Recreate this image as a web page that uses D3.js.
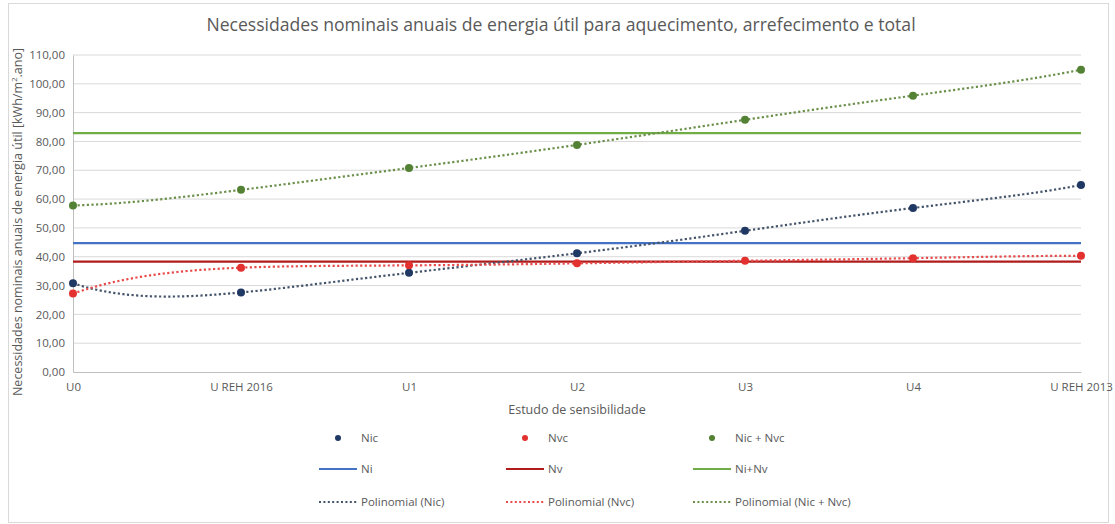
<!DOCTYPE html>
<html><head><meta charset="utf-8">
<script src="https://cdn.jsdelivr.net/npm/d3@7"></script>
<style>body{margin:0;background:#fff;} text{font-family:"Open Sans","Noto Sans",sans-serif;}</style>
</head><body>
<svg id="c" width="1115" height="524"></svg>
<script>
const categories = ["U0","U REH 2016","U1","U2","U3","U4","U REH 2013"];
const nic = [30.8, 27.6, 34.4, 41.2, 49.0, 56.9, 64.9];
const nvc = [27.2, 36.2, 37.0, 37.7, 38.6, 39.5, 40.3];
const nicNvc = [57.8, 63.2, 70.8, 78.8, 87.5, 95.9, 104.9];
const ni = 44.7;
const nv = 38.3;
const niNv = 82.9;
const yTicks = [0,10,20,30,40,50,60,70,80,90,100,110];
const trendOrder = 6;

const svg = d3.select("#c");
const M = {left:73, right:1081, top:55, bottom:372};

svg.append("rect").attr("x",8.5).attr("y",3.5).attr("width",1100).attr("height",519)
  .attr("fill","#fff").attr("stroke","#d9d9d9");

const x = d3.scalePoint().domain(categories).range([M.left, M.right]);
const xi = d3.scaleLinear().domain([0, categories.length-1]).range([M.left, M.right]);
const y = d3.scaleLinear().domain([0,110]).range([M.bottom, M.top]);
const loc = d3.formatLocale({decimal:",", thousands:".", grouping:[3], currency:["","€"]});
const fmt = loc.format(".2f");

svg.append("g").selectAll("line").data(yTicks.slice(1)).join("line")
  .attr("x1",M.left).attr("x2",M.right).attr("y1",d=>y(d)).attr("y2",d=>y(d))
  .attr("stroke","#d9d9d9").attr("stroke-width",1);

const yAxis = svg.append("g").attr("transform",`translate(${M.left},0)`)
  .call(d3.axisLeft(y).tickValues(yTicks).tickFormat(fmt).tickSize(0).tickPadding(8));
yAxis.select(".domain").attr("stroke","#bfbfbf");
yAxis.selectAll("text").attr("fill","#595959").style("font-size","11.5px");

const xAxis = svg.append("g").attr("transform",`translate(0,${M.bottom})`)
  .call(d3.axisBottom(x).tickSize(0).tickPadding(11));
xAxis.select(".domain").attr("stroke","#bfbfbf");
xAxis.selectAll("text").attr("fill","#595959").style("font-size","11.5px");

svg.append("text").attr("x",561).attr("y",31).attr("text-anchor","middle")
  .attr("fill","#595959").style("font-size","17.6px")
  .text("Necessidades nominais anuais de energia útil para aquecimento, arrefecimento e total");
svg.append("text").attr("x",577).attr("y",414).attr("text-anchor","middle")
  .attr("fill","#595959").style("font-size","12.5px").text("Estudo de sensibilidade");
const yt = svg.append("text").attr("transform","translate(22,222) rotate(-90)")
  .attr("text-anchor","middle").attr("fill","#595959").style("font-size","12.5px");
yt.append("tspan").text("Necessidades nominais anuais de energia útil [kWh/m");
yt.append("tspan").attr("dy",-5).style("font-size","8px").text("2");
yt.append("tspan").attr("dy",5).text(".ano]");

function polyfit(vals, order){
  const n = vals.length, m = order+1;
  const A = Array.from({length:m},()=>new Array(m+1).fill(0));
  for(let i=0;i<n;i++){
    const xv = i+1;
    for(let r=0;r<m;r++){
      for(let c=0;c<m;c++) A[r][c]+=Math.pow(xv,r+c);
      A[r][m]+=vals[i]*Math.pow(xv,r);
    }
  }
  for(let col=0;col<m;col++){
    let piv=col;
    for(let r=col+1;r<m;r++) if(Math.abs(A[r][col])>Math.abs(A[piv][col])) piv=r;
    [A[col],A[piv]]=[A[piv],A[col]];
    for(let r=0;r<m;r++){ if(r===col) continue;
      const f=A[r][col]/A[col][col];
      for(let c=col;c<=m;c++) A[r][c]-=f*A[col][c];
    }
  }
  const coef = A.map((row,i)=>row[m]/row[i]);
  return xv=>coef.reduce((s,c,i)=>s+c*Math.pow(xv,i),0);
}
const series = [
  {vals:nic, pt:"#203864", tr:"#44546a"},
  {vals:nvc, pt:"#e3312f", tr:"#e84b4b"},
  {vals:nicNvc, pt:"#548235", tr:"#6a8f4a"}
];
const line = d3.line().x(d=>xi(d[0])).y(d=>y(d[1])).curve(d3.curveLinear);

[[ni,"#4472c4"],[nv,"#b01c1c"],[niNv,"#70ad47"]].forEach(([v,c])=>{
  svg.append("line").attr("x1",M.left).attr("x2",M.right).attr("y1",y(v)).attr("y2",y(v))
    .attr("stroke",c).attr("stroke-width",2.2);
});

series.forEach(s=>{
  const f = polyfit(s.vals, trendOrder);
  const pts = d3.range(0, categories.length-1+0.0001, 0.02).map(t=>[t, f(t+1)]);
  svg.append("path").attr("d",line(pts)).attr("fill","none").attr("stroke",s.tr)
    .attr("stroke-width",2.2).attr("stroke-dasharray","2.2,2.4");
});
series.forEach(s=>{
  svg.append("g").selectAll("circle").data(s.vals).join("circle")
    .attr("cx",(d,i)=>x(categories[i])).attr("cy",d=>y(d)).attr("r",4).attr("fill",s.pt);
});

const cols = [319, 506, 693];
const rows = [438, 469, 502];
const leg = [
  [{t:"Nic",type:"pt",c:"#203864"},{t:"Nvc",type:"pt",c:"#e3312f"},{t:"Nic + Nvc",type:"pt",c:"#548235"}],
  [{t:"Ni",type:"ln",c:"#4472c4"},{t:"Nv",type:"ln",c:"#b01c1c"},{t:"Ni+Nv",type:"ln",c:"#70ad47"}],
  [{t:"Polinomial (Nic)",type:"dt",c:"#44546a"},{t:"Polinomial (Nvc)",type:"dt",c:"#e84b4b"},{t:"Polinomial (Nic + Nvc)",type:"dt",c:"#6a8f4a"}]
];
leg.forEach((row,ri)=>row.forEach((it,ci)=>{
  const x0 = cols[ci], yy = rows[ri];
  if(it.type==="pt") svg.append("circle").attr("cx",x0+19).attr("cy",yy).attr("r",3).attr("fill",it.c);
  else {
    const l = svg.append("line").attr("x1",x0).attr("x2",x0+38).attr("y1",yy).attr("y2",yy)
      .attr("stroke",it.c).attr("stroke-width",it.type==="ln"?2.2:2);
    if(it.type==="dt") l.attr("stroke-dasharray","2,2.4");
  }
  svg.append("text").attr("x",x0+42).attr("y",yy+4).attr("fill","#595959")
    .style("font-size","11.5px").text(it.t);
}));
</script>
</body></html>
